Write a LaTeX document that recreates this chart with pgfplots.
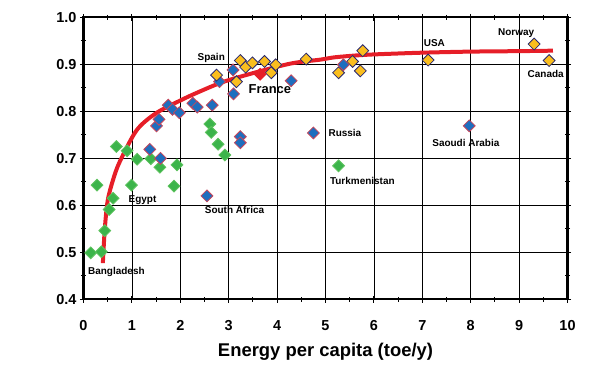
\documentclass[border=0pt]{standalone}
\usepackage{fontspec}
\setmainfont{Liberation Sans}
\usepackage{pgfplots}
\pgfplotsset{compat=1.18}
\definecolor{gfill}{RGB}{60,180,75}
\definecolor{gedge}{RGB}{95,195,95}
\definecolor{bfill}{RGB}{30,110,190}
\definecolor{bedge}{RGB}{200,70,90}
\definecolor{ofill}{RGB}{250,190,30}
\definecolor{oedge}{RGB}{40,40,110}
\definecolor{curvec}{RGB}{230,30,40}
\begin{document}
\begin{tikzpicture}
\path[use as bounding box] (-83.5bp,-70.7bp) rectangle (516.5bp,299.3bp);
\begin{axis}[
 scale only axis, width=484bp, height=282bp,
 xmin=0, xmax=10, ymin=0.4, ymax=1.0,
 xtick={0,1,2,3,4,5,6,7,8,9,10},
 ytick={0.4,0.5,0.6,0.7,0.8,0.9,1.0},
 minor x tick num=1, minor y tick num=1,
 xmajorgrids, ymajorgrids,
 major grid style={black, line width=0.7bp},
 axis line style={line width=2.2bp},
 tick style={black, line width=1.1bp},
 tick align=center, major tick length=7bp, minor tick length=5bp,
 ticklabel style={font=\fontsize{14.5}{16}\selectfont\bfseries},
 /pgf/number format/assume math mode=true,
 yticklabel style={/pgf/number format/.cd, fixed, fixed zerofill, precision=1, assume math mode=true},
 xticklabel style={yshift=-14bp},
 xlabel={Energy per capita (toe/y)},
 xlabel style={font=\fontsize{18.5}{20}\selectfont\bfseries, yshift=-6bp},
 clip=false,
]
\addplot[curvec, line width=4bp, smooth, no marks] coordinates {
(0.40,0.477) (0.44,0.55) (0.50,0.61) (0.61,0.654) (0.75,0.693) (1.1,0.760) (1.5,0.796) (2.0,0.823) (2.4,0.842) (2.9,0.863) (3.6,0.884) (4.3,0.902) (4.9,0.910) (5.2,0.915) (5.8,0.920) (6.5,0.923) (7.1,0.925) (8.0,0.927) (9.0,0.928) (9.7,0.929)
};
\addplot[only marks, mark=square*, mark size=4.2bp, mark options={rotate=45, fill=gfill, draw=gedge, line width=0.8bp}] coordinates {
(0.15,0.499) (0.37,0.501) (0.44,0.546) (0.53,0.591) (0.61,0.615) (0.28,0.643) (0.99,0.643) (1.87,0.641)
(0.68,0.725) (0.90,0.716) (1.11,0.698) (1.39,0.699) (1.58,0.681) (1.93,0.686)
(2.61,0.773) (2.64,0.755) (2.78,0.730) (2.92,0.707) (5.27,0.684)
};
\addplot[only marks, mark=square*, mark size=4.2bp, mark options={rotate=45, fill=bfill, draw=bedge, line width=0.8bp}] coordinates {
(1.37,0.719) (1.59,0.700) (1.51,0.769) (1.56,0.783) (1.75,0.813) (1.84,0.804) (1.98,0.797) (2.26,0.817) (2.35,0.809) (2.66,0.813)
(2.81,0.863) (3.09,0.888) (3.10,0.837) (4.29,0.865) (3.24,0.746) (3.24,0.733) (4.75,0.754) (2.55,0.620) (7.97,0.769)
};
\addplot[only marks, mark=square*, mark size=4.2bp, mark options={rotate=45, fill=ofill, draw=oedge, line width=0.8bp}] coordinates {
(2.75,0.877) (3.24,0.908) (3.35,0.894) (3.49,0.903) (3.74,0.906) (3.97,0.899) (3.88,0.882) (3.16,0.863) (4.60,0.911)
(5.77,0.929) (5.56,0.906) (5.27,0.882) (5.72,0.886) (7.12,0.909) (9.31,0.943) (9.62,0.908)
};
\addplot[only marks, mark=square*, mark size=4.2bp, mark options={rotate=45, fill=bfill, draw=bedge, line width=0.8bp}] coordinates {(5.37,0.899)};
\addplot[only marks, mark=square*, mark size=4.2bp, mark options={rotate=45, fill=curvec, draw=curvec, line width=0.8bp}] coordinates {(3.65,0.879)};
\tikzset{lab/.style={font=\fontsize{10}{12}\selectfont\bfseries, inner sep=0pt}}
\node[lab] at (axis cs:2.64,0.914) {Spain};
\node[font=\fontsize{13}{15}\selectfont\bfseries, inner sep=0pt] at (axis cs:3.85,0.847) {France};
\node[lab] at (axis cs:7.25,0.946) {USA};
\node[lab] at (axis cs:8.94,0.967) {Norway};
\node[lab] at (axis cs:9.55,0.879) {Canada};
\node[lab] at (axis cs:7.90,0.732) {Saoudi Arabia};
\node[lab, anchor=west] at (axis cs:5.06,0.753) {Russia};
\node[lab, anchor=west] at (axis cs:5.09,0.652) {Turkmenistan};
\node[lab] at (axis cs:3.12,0.591) {South Africa};
\node[lab] at (axis cs:1.22,0.611) {Egypt};
\node[lab] at (axis cs:0.68,0.459) {Bangladesh};
\end{axis}
\end{tikzpicture}
\end{document}
